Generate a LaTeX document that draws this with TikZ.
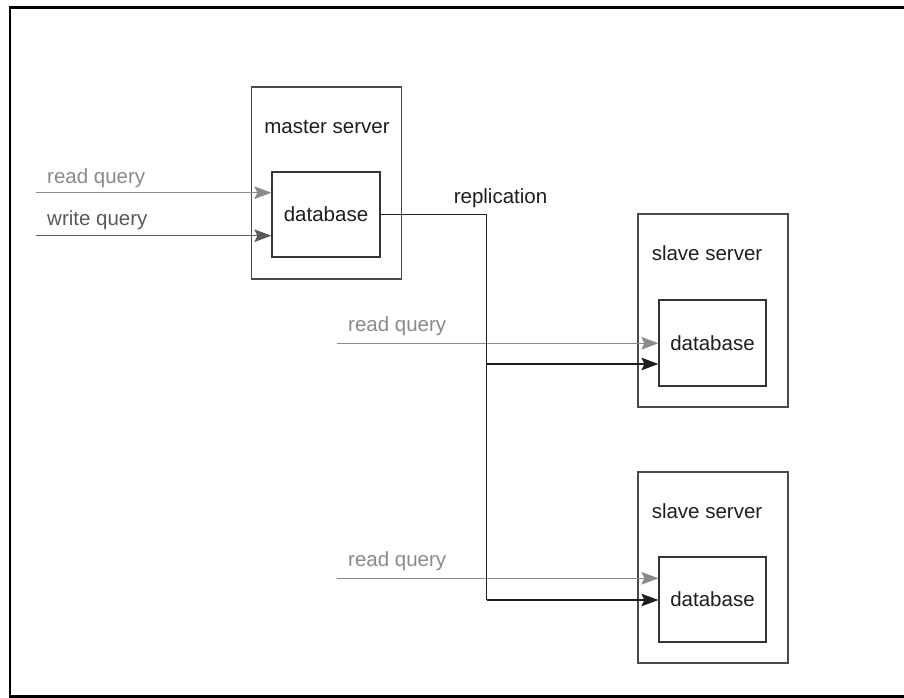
\documentclass[tikz,border=0pt]{standalone}
\usepackage{fontspec}
\setmainfont{Liberation Sans}
\usetikzlibrary{arrows.meta}
\definecolor{readgray}{HTML}{8A8A8A}
\definecolor{writegray}{HTML}{5A5A5A}
\definecolor{boxgray}{HTML}{4A4A4A}
\definecolor{txtdark}{HTML}{1E1E1E}
\tikzset{
  serverbox/.style={draw=boxgray, line width=1.7pt, minimum width=150pt, minimum height=192pt, inner sep=0pt},
  dbbox/.style={draw=txtdark!90, line width=1.2pt, minimum width=107pt, minimum height=85pt, inner sep=0pt,
    font=\fontsize{20.5pt}{24pt}\selectfont, text=txtdark},
  lbl/.style={inner sep=0pt, font=\fontsize{20.5pt}{24pt}\selectfont, text=txtdark},
  readlbl/.style={lbl, text=readgray, anchor=west},
  writelbl/.style={lbl, text=writegray, anchor=west},
  tip/.style={-{Stealth[length=17pt,width=12.5pt,inset=3pt]}},
  readarrow/.style={tip, draw=readgray, fill=readgray, line width=1.4pt},
  writearrow/.style={tip, draw=writegray, fill=writegray, line width=1.4pt},
  replline/.style={draw=txtdark, line width=1.4pt},
  replarrow/.style={tip, replline, fill=txtdark},
  frame/.style={draw=black, line width=2.6pt}
}
\begin{document}
\begin{tikzpicture}[x=1pt,y=-1pt]
\useasboundingbox (0,0) rectangle (904,698);
\fill[white] (0,0) rectangle (904,698);
% frame
\draw[frame] (10,698) -- (10,7.3) -- (904,7.3);
\draw[frame] (10,696.7) -- (904,696.7);

% master
\node[serverbox] (ms) at (326.5,183) {};
\node[lbl] (mslbl) at (327,127) {master server};
\node[dbbox, minimum width=108pt] (mdb) at (326,214.5) {database};

% slave 1
\node[serverbox, minimum height=193pt] (s1) at (712.7,310.5) {};
\node[lbl] (s1lbl) at (707,253) {slave server};
\node[dbbox, minimum height=86pt] (sdb1) at (712.5,343) {database};

% slave 2
\node[serverbox, minimum height=191pt] (s2) at (712.7,567.2) {};
\node[lbl] (s2lbl) at (707,511) {slave server};
\node[dbbox] (sdb2) at (712.5,599.5) {database};

% master queries
\coordinate (mr) at (36,192.7);
\coordinate (mw) at (36,235.7);
\node[readlbl] (mrl) at (47,178) {read query};
\node[writelbl] (mwl) at (47,220) {write query};
\draw[readarrow] (mr) -- (mr -| mdb.west);
\draw[writearrow] (mw) -- (mw -| mdb.west);

% slave queries
\coordinate (r1) at (336.7,343.3);
\coordinate (r2) at (336.7,578.3);
\node[readlbl] (r1l) at (348,326) {read query};
\node[readlbl] (r2l) at (348,561.5) {read query};
\draw[readarrow] (r1) -- (r1 -| sdb1.west);
\draw[readarrow] (r2) -- (r2 -| sdb2.west);

% replication
\node[lbl] (repl) at (500.5,198) {replication};
\coordinate (rb) at (486.7,600);
\coordinate (rc) at (486.7,364);
\draw[replline] (mdb.east) -| (rb);
\draw[replarrow] (rb) -- (rb -| sdb2.west);
\draw[replarrow] (rc) -- (rc -| sdb1.west);
\end{tikzpicture}
\end{document}
